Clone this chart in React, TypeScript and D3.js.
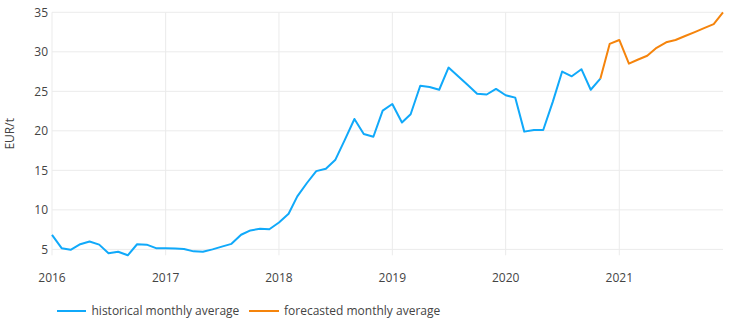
import React from "react";
import * as d3 from "d3";

const historicalMonths: string[] = [
  "2016-01","2016-02","2016-03","2016-04","2016-05","2016-06","2016-07","2016-08","2016-09","2016-10","2016-11","2016-12",
  "2017-01","2017-02","2017-03","2017-04","2017-05","2017-06","2017-07","2017-08","2017-09","2017-10","2017-11","2017-12",
  "2018-01","2018-02","2018-03","2018-04","2018-05","2018-06","2018-07","2018-08","2018-09","2018-10","2018-11","2018-12",
  "2019-01","2019-02","2019-03","2019-04","2019-05","2019-06","2019-07","2019-08","2019-09","2019-10","2019-11","2019-12",
  "2020-01","2020-02","2020-03","2020-04","2020-05","2020-06","2020-07","2020-08","2020-09","2020-10","2020-11",
];
const historicalValues: number[] = [
  6.84, 5.15, 4.95, 5.65, 6.0, 5.6, 4.5, 4.7, 4.25, 5.65, 5.6, 5.15,
  5.15, 5.1, 5.05, 4.75, 4.7, 5.0, 5.35, 5.7, 6.85, 7.4, 7.6, 7.55,
  8.4, 9.5, 11.7, 13.4, 14.9, 15.2, 16.3, 18.85, 21.5, 19.6, 19.25, 22.55,
  23.4, 21.05, 22.1, 25.7, 25.55, 25.2, 28.0, 26.9, 25.8, 24.7, 24.6, 25.3,
  24.5, 24.2, 19.9, 20.1, 20.1, 23.7, 27.5, 26.9, 27.8, 25.2, 26.6,
];
const forecastMonths: string[] = [
  "2020-11","2020-12","2021-01","2021-02","2021-03","2021-04","2021-05","2021-06","2021-07","2021-08","2021-09","2021-10","2021-11","2021-12",
];
const forecastValues: number[] = [
  26.6, 31.0, 31.5, 28.5, 29.0, 29.5, 30.5, 31.2, 31.5, 32.0, 32.5, 33.0, 33.5, 35.0,
];
const yTicks: number[] = [5, 10, 15, 20, 25, 30, 35];
const xTickYears: number[] = [2016, 2017, 2018, 2019, 2020, 2021];
const seriesNames: string[] = ["historical monthly average", "forecasted monthly average"];
const seriesColors: string[] = ["#10a9fa", "#f5840c"];

const parse = d3.timeParse("%Y-%m");

export default function App() {
  const W = 737, H = 324;
  const left = 52, right = 723, top = 12.3, bottom = 255.3;
  const x = d3.scaleTime()
    .domain([parse("2016-01") as Date, parse("2021-12") as Date])
    .range([left, right]);
  const y = d3.scaleLinear().domain([4.25, 35]).range([bottom, top]);

  const line = d3.line<[Date, number]>()
    .x((d) => x(d[0]))
    .y((d) => y(d[1]));

  const hist: [Date, number][] = historicalMonths.map((m, i) => [parse(m) as Date, historicalValues[i]]);
  const fc: [Date, number][] = forecastMonths.map((m, i) => [parse(m) as Date, forecastValues[i]]);

  const font = "'Open Sans', sans-serif";
  const textColor = "#444";

  return (
    <svg width={W} height={H} style={{ position: "absolute", left: 0, top: 0, background: "#fff" }}>
      {yTicks.map((t) => (
        <line key={"gy" + t} x1={left} x2={right} y1={y(t)} y2={y(t)} stroke="#ebebeb" strokeWidth={1} />
      ))}
      {xTickYears.map((yr) => {
        const xv = x(new Date(yr, 0, 1));
        return <line key={"gx" + yr} x1={xv} x2={xv} y1={top} y2={bottom} stroke="#ebebeb" strokeWidth={1} />;
      })}
      {yTicks.map((t) => (
        <text key={"ty" + t} x={48} y={y(t)} dy="0.35em" textAnchor="end" fontFamily={font} fontSize={12} fill={textColor}>
          {t}
        </text>
      ))}
      {xTickYears.map((yr) => (
        <text key={"tx" + yr} x={x(new Date(yr, 0, 1))} y={282} textAnchor="middle" fontFamily={font} fontSize={12} fill={textColor}>
          {yr}
        </text>
      ))}
      <text transform={`translate(14,${(top + bottom) / 2}) rotate(-90)`} textAnchor="middle" fontFamily={font} fontSize={12} fill={textColor}>
        EUR/t
      </text>
      <path d={line(hist) || ""} fill="none" stroke={seriesColors[0]} strokeWidth={2} strokeLinejoin="round" />
      <path d={line(fc) || ""} fill="none" stroke={seriesColors[1]} strokeWidth={2} strokeLinejoin="round" />
      <g>
        <line x1={57} x2={86} y1={311} y2={311} stroke={seriesColors[0]} strokeWidth={2} />
        <text x={91.5} y={311} dy="0.35em" fontFamily={font} fontSize={12} fill={textColor}>{seriesNames[0]}</text>
        <line x1={249} x2={279} y1={311} y2={311} stroke={seriesColors[1]} strokeWidth={2} />
        <text x={284} y={311} dy="0.35em" fontFamily={font} fontSize={12} fill={textColor}>{seriesNames[1]}</text>
      </g>
    </svg>
  );
}
